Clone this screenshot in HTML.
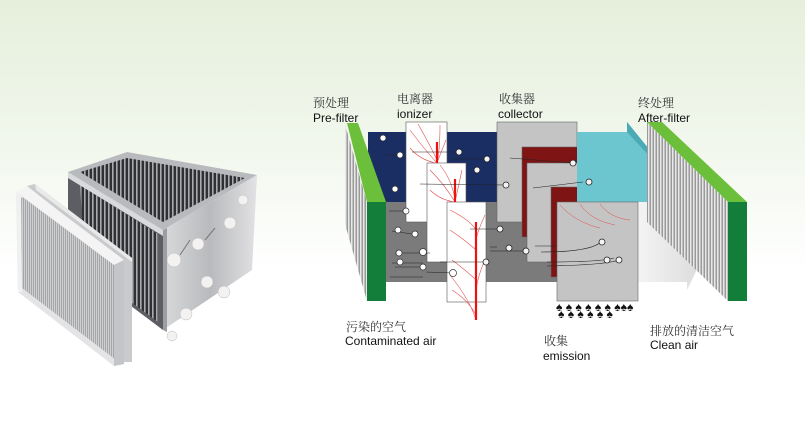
<!DOCTYPE html>
<html><head><meta charset="utf-8"><style>
html,body{margin:0;padding:0;width:805px;height:428px;overflow:hidden;background:linear-gradient(#e6efdc 0px,#f1f7ec 140px,#ffffff 270px);}
svg{position:absolute;left:0;top:0;display:block}
text{font-family:"Liberation Sans","Noto Sans CJK SC",sans-serif;font-size:12px;fill:#111}
.cn{font-family:"Noto Serif CJK SC","Liberation Serif",serif;fill:#333}
</style></head><body>
<svg width="805" height="428" viewBox="0 0 805 428">
<defs>
<pattern id="st" width="3" height="10" patternUnits="userSpaceOnUse"><rect width="3" height="10" fill="#9a9a9a"/><rect width="1.5" height="10" fill="#e8e8e8"/></pattern>
<pattern id="st2" width="2" height="10" patternUnits="userSpaceOnUse"><rect width="2" height="10" fill="#a4a6a8"/><rect width="1" height="10" fill="#cfd0d2"/></pattern>
<pattern id="fin" width="4" height="10" patternUnits="userSpaceOnUse"><rect width="4" height="10" fill="#2e3034"/><rect width="1.6" height="10" fill="#a8aaad"/></pattern>
<linearGradient id="ar" x1="0" x2="1"><stop offset="0" stop-color="#f4f4f4"/><stop offset="1" stop-color="#d8d8d8"/></linearGradient>
<linearGradient id="met" x1="0" x2="1"><stop offset="0" stop-color="#d8d9db"/><stop offset="0.5" stop-color="#b9babd"/><stop offset="1" stop-color="#e2e2e4"/></linearGradient>
</defs>
<!-- photo: box -->
<polygon points="68,172 163,230 163,330 123,300 68,260" fill="#5c5e63"/>
<polygon points="80,185 158,234 158,322 85,268" fill="url(#fin)"/>
<polygon points="68,172 127,152 257,175 163,230" fill="#b9babd"/>
<polygon points="80,172 127,158 245,178 163,222" fill="url(#fin)"/>
<polygon points="68,172 163,230 163,236 68,178" fill="#d9dadc"/>
<polygon points="163,230 257,175 252,270 163,330" fill="url(#met)"/>
<polygon points="163,230 167,228 167,332 163,330" fill="#9d9ea2"/>
<g fill="#f4f2f0" stroke="#bbb" stroke-width="0.5">
<circle cx="174" cy="260" r="7"/><circle cx="198" cy="244" r="6"/><circle cx="230" cy="223" r="6"/><circle cx="243" cy="200" r="5"/>
<circle cx="207" cy="282" r="6"/><circle cx="224" cy="292" r="6"/><circle cx="186" cy="314" r="6"/><circle cx="172" cy="336" r="5"/>
</g>
<g stroke="#777" stroke-width="1"><line x1="180" y1="255" x2="190" y2="240"/><line x1="205" y1="240" x2="215" y2="228"/></g>
<!-- photo: filters -->
<polygon points="27,186 35,184 132,258 132,362 124,362 124,262" fill="#c9cacc"/>
<polygon points="35,184 132,258 132,262 36,190" fill="#e9e9ea"/>
<polygon points="16,192 27,187 124,260 124,364 114,366 18,292" fill="#e4e4e6"/>
<polygon points="21,198 26,196 120,266 120,358 116,360 22,288" fill="url(#st2)"/>
<polygon points="16,192 27,187 124,260 114,265" fill="#f4f4f5"/>
<polygon points="114,265 124,260 124,364 114,366" fill="#c4c5c8"/>
<polygon points="16,192 21,194 22,292 18,292" fill="#f0f0f0"/>
<!-- diagram -->
<polygon points="345,124 367,202 367,301 345,224" fill="url(#st)"/>
<rect x="368" y="132" width="130" height="70" fill="#1b2e64"/>
<rect x="386" y="202" width="175" height="80" fill="#7b7b7b"/>
<polygon points="347,123 358,123 386,202 367,202" fill="#6cbf3a"/>
<rect x="367" y="202" width="19" height="99" fill="#137e3a"/>
<g stroke="#555" stroke-width="0.6">
<rect x="406" y="122" width="41" height="100" fill="#fff"/>
<rect x="427" y="163" width="39" height="99" fill="#fff"/>
<rect x="447" y="202" width="39" height="100" fill="#fff"/>
</g>
<g fill="none" stroke="#e05050" stroke-width="0.6">
<path d="M410,130 Q425,150 437,163 M418,124 Q430,145 437,160 M440,125 Q440,150 437,163 M446,140 Q440,155 437,163 M410,148 Q420,160 436,163"/>
<path d="M430,170 Q445,185 455,202 M440,165 Q452,180 455,200 M462,170 Q458,188 455,202 M430,190 Q440,200 455,202"/>
<path d="M450,210 Q470,220 476,230 M450,230 Q465,240 476,250 M452,260 Q468,272 476,280 M452,290 Q468,300 476,315 M485,215 Q478,230 476,240 M485,260 Q478,275 476,290 M450,275 Q470,300 476,320"/>
<path d="M500,125 Q515,150 540,160 M520,124 Q530,145 560,160 M545,124 Q555,145 575,150 M530,170 Q545,190 580,195 M550,168 Q560,185 600,190 M560,205 Q575,222 620,225"/>
<path d="M638,170 Q660,190 690,200"/>
</g>
<g stroke="#ee1111" stroke-width="2.2"><line x1="437" y1="142" x2="437" y2="163"/><line x1="455" y1="179" x2="455" y2="202"/><line x1="476" y1="222" x2="476" y2="320"/></g>
<g stroke="#666" stroke-width="0.6">
<rect x="497" y="122" width="80" height="100" fill="#c4c4c4"/>
<rect x="522" y="147" width="70" height="90" fill="#7e1414"/>
<rect x="527" y="163" width="80" height="99" fill="#c4c4c4"/>
<rect x="551" y="187" width="71" height="90" fill="#7e1414"/>
</g>
<polygon points="577,132 627,132 627,122 692,202 577,202" fill="#6cc6cf"/>
<polygon points="627,122 627,132 690,200 692,202" fill="#4aaab5"/>
<polygon points="638,202 692,202 710,243 687,290 687,282 638,282" fill="url(#ar)"/>
<rect x="557" y="202" width="81" height="99" fill="#c4c4c4" stroke="#666" stroke-width="0.6"/>
<g fill="none" stroke="#e05050" stroke-width="0.5"><path d="M560,205 Q575,222 600,228 M580,204 Q590,220 615,225 M600,204 Q610,218 630,220"/></g>
<polygon points="647,122 728,202 728,301 647,222" fill="url(#st)"/>
<polygon points="647,122 662,122 747,202 728,202" fill="#6cbf3a"/>
<rect x="728" y="202" width="19" height="99" fill="#137e3a"/>
<g stroke="#222" stroke-width="0.6" fill="none">
<path d="M380,138 L383,138 M385,155 L400,155 M392,188 L395,188 M389,211 L406,211 M392,231 L412,234 M395,253 L430,253 M392,263 L423,263 M395,267 L420,267 M390,277 L423,277 M426,272 L453,273 M412,152 L458,152 M450,159 L487,159 M420,184 L506,185 M470,229 L500,229 M490,247 L497,247 M490,251 L527,251 M440,262 L486,262 M510,158 L573,163 M533,188 L583,182 M541,252 Q590,252 601,242 M547,262 Q600,262 614,258 M547,266 Q605,265 619,260 M535,246 L556,246"/>
</g>
<g fill="#fff" stroke="#333" stroke-width="0.7">
<circle cx="383" cy="138" r="3"/><circle cx="400" cy="155" r="3"/><circle cx="395" cy="189" r="3"/><circle cx="406" cy="211" r="3"/><circle cx="398" cy="230" r="3"/><circle cx="415" cy="234" r="3"/><circle cx="399" cy="253" r="3"/><circle cx="400" cy="262" r="3"/><circle cx="423" cy="252" r="3.5"/><circle cx="423" cy="267" r="3"/><circle cx="453" cy="273" r="3.5"/>
</g>
<g fill="#f4f4f4" stroke="#222" stroke-width="0.8">
<circle cx="459" cy="152" r="3"/><circle cx="487" cy="159" r="3"/><circle cx="477" cy="170" r="3"/><circle cx="506" cy="185" r="3"/><circle cx="500" cy="229" r="3"/><circle cx="509" cy="248" r="3"/><circle cx="526" cy="251" r="3"/><circle cx="486" cy="262" r="3"/><circle cx="573" cy="163" r="3"/><circle cx="589" cy="182" r="3"/><circle cx="602" cy="242" r="3"/><circle cx="607" cy="260" r="3"/><circle cx="619" cy="260" r="3"/>
</g>
<g fill="#111"><text x="556" y="311" font-size="6">♠ ♠ ♠ ♠ ♠ ♠ ♠♠♠</text><text x="558" y="318" font-size="6">♠ ♠  ♠  ♠   ♠ ♠</text></g>
<text class="cn" x="313" y="107">预处理</text><text x="313" y="122">Pre-filter</text>
<text class="cn" x="397" y="103">电离器</text><text x="397" y="118">ionizer</text>
<text class="cn" x="499" y="103">收集器</text><text x="498" y="118">collector</text>
<text class="cn" x="638" y="107">终处理</text><text x="638" y="122">After-filter</text>
<text class="cn" x="346" y="331">污染的空气</text><text x="345" y="345">Contaminated air</text>
<text class="cn" x="544" y="345">收集</text><text x="543" y="360">emission</text>
<text class="cn" x="650" y="335">排放的清洁空气</text><text x="650" y="349">Clean air</text>
</svg>
</body></html>
